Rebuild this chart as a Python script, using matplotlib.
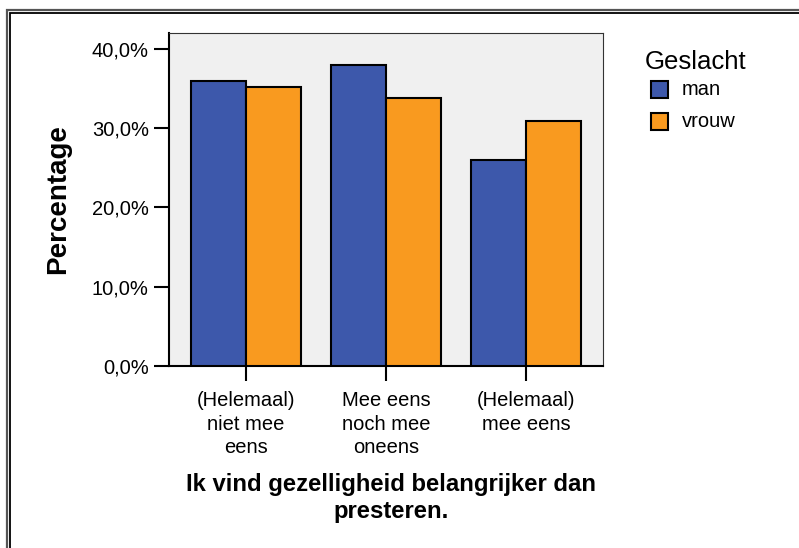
import matplotlib
matplotlib.use("Agg")
import matplotlib.pyplot as plt
import numpy as np
from matplotlib.lines import Line2D
from matplotlib.patches import Rectangle

plt.rcParams['font.family'] = ['Liberation Sans', 'DejaVu Sans']

categories = ["(Helemaal)\nniet mee\neens", "Mee eens\nnoch mee\noneens", "(Helemaal)\nmee eens"]
series_names = ["man", "vrouw"]
man_values = [35.9, 38.0, 26.0]
vrouw_values = [35.2, 33.8, 30.9]
yticks = [0, 10, 20, 30, 40]
ytick_labels = ["0,0%", "10,0%", "20,0%", "30,0%", "40,0%"]
colors = ["#3D58AB", "#F99A1F"]

W, H = 799, 548
fig = plt.figure(figsize=(W / 100, H / 100), dpi=100)
fig.patch.set_facecolor("white")

ax = fig.add_axes([169 / W, 1 - 366 / H, (603 - 169) / W, (366 - 33) / H])
ax.set_facecolor("#F0F0F0")

x = np.arange(len(categories))
w = 0.396
ax.bar(x - w / 2, man_values, w, color=colors[0], edgecolor="black", linewidth=1.5, label=series_names[0], zorder=3)
ax.bar(x + w / 2, vrouw_values, w, color=colors[1], edgecolor="black", linewidth=1.5, label=series_names[1], zorder=3)

ax.set_xlim(-0.55, 2.55)
ax.set_ylim(0, 42)
ax.set_yticks(yticks)
ax.set_yticklabels(ytick_labels, fontsize=14.5)
ax.set_xticks(x)
ax.set_xticklabels(categories, fontsize=14.5, linespacing=1.3)
ax.tick_params(axis="y", length=10.5, width=1.5, pad=4, color="black", direction="out")
ax.tick_params(axis="x", length=11, width=1.5, pad=7, color="black", direction="out")

for s in ["top", "right"]:
    ax.spines[s].set_color("#333333")
    ax.spines[s].set_linewidth(0.8)
for s in ["left", "bottom"]:
    ax.spines[s].set_color("black")
    ax.spines[s].set_linewidth(1.5)

ax.set_ylabel("Percentage", fontsize=20, fontweight="bold", labelpad=15)
fig.text(391 / W, 1 - 498 / H, "Ik vind gezelligheid belangrijker dan\npresteren.",
         ha="center", va="center", fontsize=17.2, fontweight="bold", linespacing=1.27)

# legend
fig.text(645 / W, 1 - 62 / H, "Geslacht", ha="left", va="center", fontsize=18.5)
for i, (name, c) in enumerate(zip(series_names, colors)):
    yc = 89.5 + i * 32
    fig.patches.append(Rectangle((651 / W, 1 - (yc + 8.5) / H), 17 / W, 17 / H,
                                 transform=fig.transFigure, facecolor=c, edgecolor="black", linewidth=1.5))
    fig.text(682 / W, 1 - yc / H, name, ha="left", va="center", fontsize=14.5)

# double frame
for xo, yo, lw, col in [(7.0, 9.5, 1.6, "#555555"), (10.3, 12.7, 1.3, "black")]:
    fig.add_artist(Line2D([xo / W, xo / W, 1], [0, 1 - yo / H, 1 - yo / H],
                          transform=fig.transFigure, color=col, lw=lw, solid_joinstyle="miter"))

fig.savefig("out.png", dpi=100)
